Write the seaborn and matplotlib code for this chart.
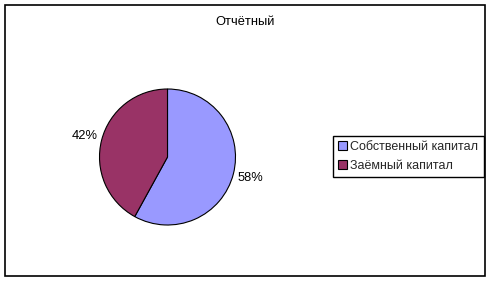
import matplotlib
matplotlib.use("Agg")
import matplotlib.pyplot as plt
import seaborn as sns
from matplotlib.patches import Rectangle

title = "Отчётный"
categories = ["Собственный капитал", "Заёмный капитал"]
values = [58, 42]
colors = ["#9999FF", "#993366"]

sns.set_theme(style="white")
plt.rcParams['font.family'] = ['Liberation Sans', 'DejaVu Sans']

W, H = 491, 282
fig = plt.figure(figsize=(W / 100, H / 100), dpi=100)
fig.patch.set_facecolor("white")

# outer border
fig.patches.append(Rectangle((5 / W, 1 - 276 / H), 480 / W, 271 / H, transform=fig.transFigure,
                             fill=False, edgecolor="black", linewidth=1.2))

cx, cy, r = 167.5, 157, 68
ax = fig.add_axes([(cx - r) / W, (H - cy - r) / H, 2 * r / W, 2 * r / H])
wedges, texts, autotexts = ax.pie(values, colors=colors, startangle=90, counterclock=False,
                                  autopct="%1.0f%%", pctdistance=1.26,
                                  wedgeprops=dict(edgecolor="black", linewidth=0.8),
                                  textprops=dict(fontsize=9.3, color="black"))
ax.set_xlim(-1, 1)
ax.set_ylim(-1, 1)
ax.axis("off")

fig.text(245 / W, 1 - 22 / H, title, ha="center", va="center", fontsize=9.3, color="black")

leg = fig.legend(wedges, categories, loc="upper left", bbox_to_anchor=(333 / W, 1 - 136 / H),
                 frameon=True, fancybox=False, edgecolor="black", framealpha=1,
                 fontsize=9.0, handlelength=0.7, handleheight=0.7, handletextpad=0.3,
                 borderpad=0.4, labelspacing=0.55, borderaxespad=0)
leg.get_frame().set_linewidth(1.0)

fig.savefig("out.png", dpi=100)
